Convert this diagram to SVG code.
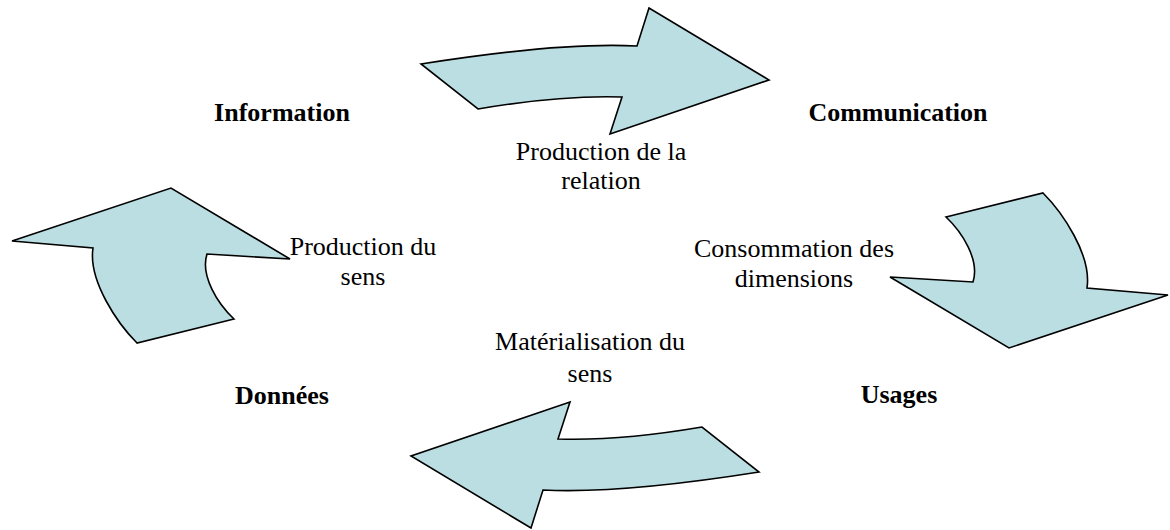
<svg xmlns="http://www.w3.org/2000/svg" width="1170" height="530" viewBox="0 0 1170 530">
<style>
.arrow{fill:#BADEE2;stroke:#000;stroke-width:1.6;stroke-linejoin:miter}
.node{font-family:"Liberation Serif","Times New Roman",serif;font-size:26px;font-weight:bold;fill:#000;text-anchor:middle}
.lbl{font-family:"Liberation Serif","Times New Roman",serif;font-size:26px;fill:#000;text-anchor:middle}
</style>
<rect width="1170" height="530" fill="#fff"/>
<g id="connectors">
  <g id="arrow-top">
    <path class="arrow" d="M421,64 Q560,42 637,46 L649,8 L769,80 L610,134 L622,97 Q560,95 478,109 Z"/>
    <text class="lbl" x="601" y="160">Production de la</text>
    <text class="lbl" x="601" y="189">relation</text>
  </g>
  <g id="arrow-right">
    <path class="arrow" d="M946,217 L1043,193 C1062,212 1092,255 1087,288 L1168,295 L1009,348 L890,277 L973,282 C980,260 962,232 946,217 Z"/>
    <text class="lbl" x="794" y="257">Consommation des</text>
    <text class="lbl" x="794" y="287">dimensions</text>
  </g>
  <g id="arrow-bottom">
    <path class="arrow" d="M759,472 Q620,494 543,490 L531,528 L411,456 L570,402 L558,439 Q620,441 702,427 Z"/>
    <text class="lbl" x="590" y="350">Matérialisation du</text>
    <text class="lbl" x="590" y="382">sens</text>
  </g>
  <g id="arrow-left">
    <path class="arrow" d="M234,319 L137,343 C118,324 88,281 93,248 L12,241 L171,188 L290,259 L207,254 C200,276 218,304 234,319 Z"/>
    <text class="lbl" x="363" y="255">Production du</text>
    <text class="lbl" x="363" y="285">sens</text>
  </g>
</g>
<g id="node-information"><text class="node" x="282" y="121">Information</text></g>
<g id="node-communication"><text class="node" x="898" y="121">Communication</text></g>
<g id="node-usages"><text class="node" x="899" y="403">Usages</text></g>
<g id="node-donnees"><text class="node" x="282" y="404">Données</text></g>
</svg>
